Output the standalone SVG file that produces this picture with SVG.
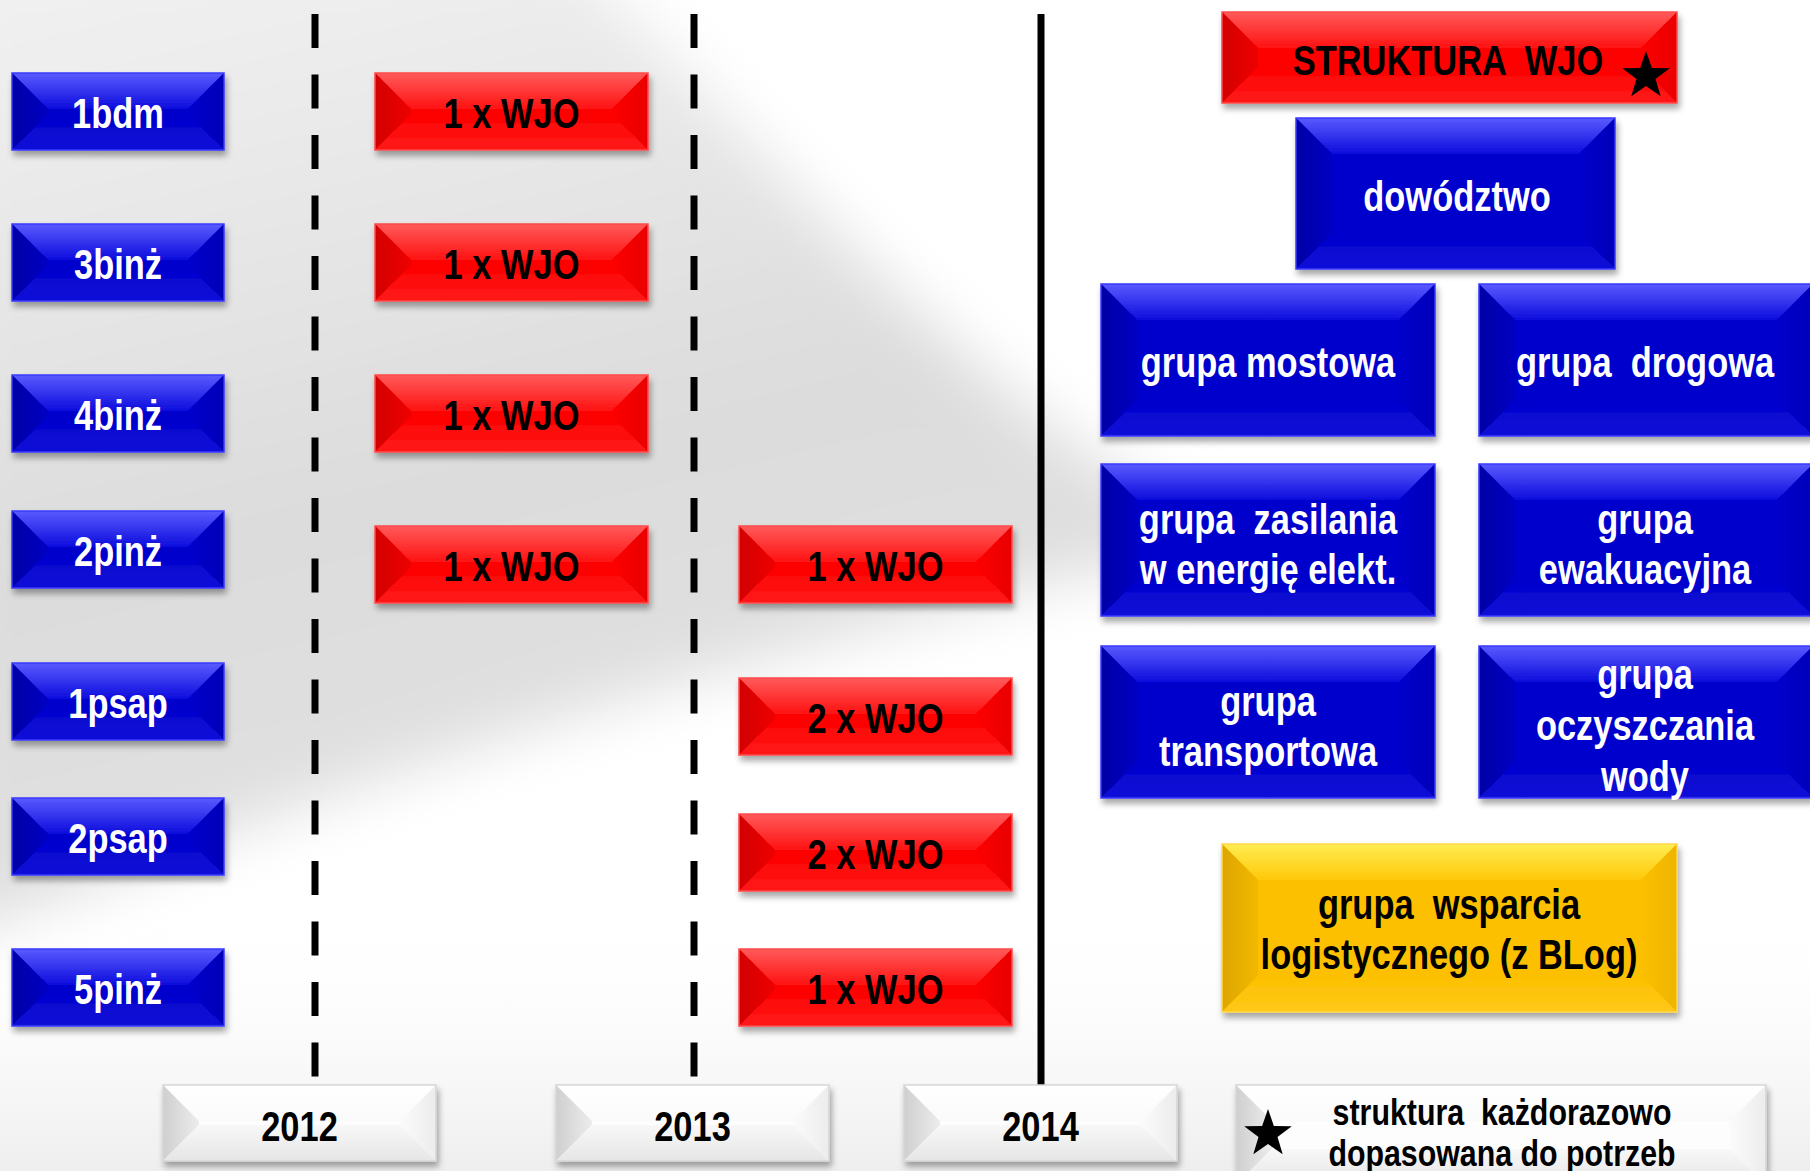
<svg xmlns="http://www.w3.org/2000/svg" xmlns:xlink="http://www.w3.org/1999/xlink" width="1810" height="1171" viewBox="0 0 1810 1171">
<style>
.lbl{font-family:"Liberation Sans",Arial,sans-serif;font-weight:bold;font-size:42px;text-anchor:middle}
.lg{font-size:37px}
.w{fill:#ffffff}
.k{fill:#000000}
.blue .b{fill:#0000cc}.blue .t{fill:url(#bT)}.blue .l{fill:url(#bL)}.blue .r{fill:url(#bR)}.blue .u{fill:url(#bU)}.blue .o{fill:none;stroke:#3a3aff;stroke-width:1.5}
.red .b{fill:#fd0000}.red .t{fill:url(#rT)}.red .l{fill:url(#rL)}.red .r{fill:url(#rR)}.red .u{fill:url(#rU)}.red .o{fill:none;stroke:#ff4a4a;stroke-width:1.5}
.yel .b{fill:#fcc000}.yel .t{fill:url(#yT)}.yel .l{fill:url(#yL)}.yel .r{fill:url(#yR)}.yel .u{fill:url(#yU)}.yel .o{fill:none;stroke:#ffd84a;stroke-width:1.5}
.wht .b{fill:#fdfdfd}.wht .t{fill:url(#wT)}.wht .l{fill:url(#wL)}.wht .r{fill:url(#wR)}.wht .u{fill:url(#wU)}.wht .o{fill:none;stroke:#d6d6d6;stroke-width:1.5}
.dash{stroke:#000;stroke-width:7;stroke-dasharray:34 26.5;fill:none}
.solid{stroke:#000;stroke-width:7;fill:none}
</style>
<defs>
<filter id="sh" x="-10%" y="-10%" width="125%" height="140%">
<feDropShadow dx="2" dy="5" stdDeviation="3" flood-color="#000" flood-opacity="0.35"/>
</filter>
<filter id="soft" x="-20%" y="-20%" width="140%" height="140%"><feGaussianBlur stdDeviation="30"/></filter>
<linearGradient id="bgG" x1="0" y1="0" x2="0.3" y2="1"><stop offset="0" stop-color="#f3f3f3"/><stop offset="0.6" stop-color="#dcdcdc"/><stop offset="1" stop-color="#e2e2e2"/></linearGradient>
<linearGradient id="bgB" x1="0" y1="0" x2="0" y2="1"><stop offset="0" stop-color="#ffffff" stop-opacity="0"/><stop offset="1" stop-color="#eeeeee"/></linearGradient>
<linearGradient id="bT" x1="0" y1="0" x2="0" y2="1"><stop offset="0" stop-color="#5a5aff"/><stop offset="1" stop-color="#0c0cdc"/></linearGradient>
<linearGradient id="bL" x1="0" y1="0" x2="1" y2="0"><stop offset="0" stop-color="#0000a6"/><stop offset="1" stop-color="#0000c2"/></linearGradient>
<linearGradient id="bR" x1="1" y1="0" x2="0" y2="0"><stop offset="0" stop-color="#0000b8"/><stop offset="1" stop-color="#0000cc"/></linearGradient>
<linearGradient id="bU" x1="0" y1="1" x2="0" y2="0"><stop offset="0" stop-color="#1212d8"/><stop offset="1" stop-color="#0000cc"/></linearGradient>
<linearGradient id="rT" x1="0" y1="0" x2="0" y2="1"><stop offset="0" stop-color="#ff5a5a"/><stop offset="1" stop-color="#ff1212"/></linearGradient>
<linearGradient id="rL" x1="0" y1="0" x2="1" y2="0"><stop offset="0" stop-color="#d20000"/><stop offset="1" stop-color="#ee0000"/></linearGradient>
<linearGradient id="rR" x1="1" y1="0" x2="0" y2="0"><stop offset="0" stop-color="#e80000"/><stop offset="1" stop-color="#fd0000"/></linearGradient>
<linearGradient id="rU" x1="0" y1="1" x2="0" y2="0"><stop offset="0" stop-color="#ff1a1a"/><stop offset="1" stop-color="#fd0000"/></linearGradient>
<linearGradient id="yT" x1="0" y1="0" x2="0" y2="1"><stop offset="0" stop-color="#ffec50"/><stop offset="1" stop-color="#ffc80a"/></linearGradient>
<linearGradient id="yL" x1="0" y1="0" x2="1" y2="0"><stop offset="0" stop-color="#dda600"/><stop offset="1" stop-color="#f2b800"/></linearGradient>
<linearGradient id="yR" x1="1" y1="0" x2="0" y2="0"><stop offset="0" stop-color="#eeb400"/><stop offset="1" stop-color="#fcc000"/></linearGradient>
<linearGradient id="yU" x1="0" y1="1" x2="0" y2="0"><stop offset="0" stop-color="#ffc818"/><stop offset="1" stop-color="#fcc000"/></linearGradient>
<linearGradient id="wT" x1="0" y1="0" x2="0" y2="1"><stop offset="0" stop-color="#ffffff"/><stop offset="1" stop-color="#fafafa"/></linearGradient>
<linearGradient id="wL" x1="0" y1="0" x2="1" y2="0"><stop offset="0" stop-color="#cfcfcf"/><stop offset="1" stop-color="#ececec"/></linearGradient>
<linearGradient id="wR" x1="1" y1="0" x2="0" y2="0"><stop offset="0" stop-color="#ececec"/><stop offset="1" stop-color="#fbfbfb"/></linearGradient>
<linearGradient id="wU" x1="0" y1="1" x2="0" y2="0"><stop offset="0" stop-color="#e6e6e6"/><stop offset="1" stop-color="#f8f8f8"/></linearGradient>
<polygon id="star" points="0,-25 5.88,-8.09 23.78,-7.73 9.51,3.09 14.69,20.23 0,10 -14.69,20.23 -9.51,3.09 -23.78,-7.73 -5.88,-8.09"/>
<g id="boxA" class="blue"><rect class="b" width="212" height="77"/><polygon class="t" points="0,0 212,0 176,36 36,36"/><polygon class="l" points="0,0 36,36 36,41 0,77"/><polygon class="r" points="212,0 212,77 176,41 176,36"/><polygon class="u" points="0,77 36,41 176,41 212,77"/><rect class="o" width="212" height="77"/></g>
<g id="boxB" class="red"><rect class="b" width="273" height="77"/><polygon class="t" points="0,0 273,0 237,36 36,36"/><polygon class="l" points="0,0 36,36 36,41 0,77"/><polygon class="r" points="273,0 273,77 237,41 237,36"/><polygon class="u" points="0,77 36,41 237,41 273,77"/><rect class="o" width="273" height="77"/></g>
<g id="boxC" class="red"><rect class="b" width="455" height="91"/><polygon class="t" points="0,0 455,0 419,36 36,36"/><polygon class="l" points="0,0 36,36 36,55 0,91"/><polygon class="r" points="455,0 455,91 419,55 419,36"/><polygon class="u" points="0,91 36,55 419,55 455,91"/><rect class="o" width="455" height="91"/></g>
<g id="boxD" class="blue"><rect class="b" width="319" height="151"/><polygon class="t" points="0,0 319,0 283,36 36,36"/><polygon class="l" points="0,0 36,36 36,115 0,151"/><polygon class="r" points="319,0 319,151 283,115 283,36"/><polygon class="u" points="0,151 36,115 283,115 319,151"/><rect class="o" width="319" height="151"/></g>
<g id="boxE" class="blue"><rect class="b" width="334" height="152"/><polygon class="t" points="0,0 334,0 298,36 36,36"/><polygon class="l" points="0,0 36,36 36,116 0,152"/><polygon class="r" points="334,0 334,152 298,116 298,36"/><polygon class="u" points="0,152 36,116 298,116 334,152"/><rect class="o" width="334" height="152"/></g>
<g id="boxF" class="yel"><rect class="b" width="455" height="168"/><polygon class="t" points="0,0 455,0 419,36 36,36"/><polygon class="l" points="0,0 36,36 36,132 0,168"/><polygon class="r" points="455,0 455,168 419,132 419,36"/><polygon class="u" points="0,168 36,132 419,132 455,168"/><rect class="o" width="455" height="168"/></g>
<g id="boxG" class="wht"><rect class="b" width="273" height="76"/><polygon class="t" points="0,0 273,0 237,36 36,36"/><polygon class="l" points="0,0 36,36 36,40 0,76"/><polygon class="r" points="273,0 273,76 237,40 237,36"/><polygon class="u" points="0,76 36,40 237,40 273,76"/><rect class="o" width="273" height="76"/></g>
<g id="boxH" class="wht"><rect class="b" width="530" height="100"/><polygon class="t" points="0,0 530,0 494,36 36,36"/><polygon class="l" points="0,0 36,36 36,64 0,100"/><polygon class="r" points="530,0 530,100 494,64 494,36"/><polygon class="u" points="0,100 36,64 494,64 530,100"/><rect class="o" width="530" height="100"/></g>
</defs>

<g id="background">
<rect width="1810" height="1171" fill="#ffffff"/>
<path d="M-60,-60 H560 C760,140 980,420 1230,540 C900,620 450,730 -60,950 Z" fill="url(#bgG)" filter="url(#soft)"/>
<rect x="0" y="900" width="1810" height="271" fill="url(#bgB)"/>
</g>

<g id="connectors">
<line class="dash" x1="315" y1="14" x2="315" y2="1077"/>
<line class="dash" x1="694" y1="14" x2="694" y2="1077"/>
<line class="solid" x1="1041" y1="14" x2="1041" y2="1085"/>
</g>

<g id="n-1bdm"><use href="#boxA" x="12" y="73" filter="url(#sh)"/><text class="lbl w" transform="matrix(0.82 0 0 1 118 0)" x="0" y="128">1bdm</text></g>
<g id="n-3binz"><use href="#boxA" x="12" y="224" filter="url(#sh)"/><text class="lbl w" transform="matrix(0.82 0 0 1 118 0)" x="0" y="279">3binż</text></g>
<g id="n-4binz"><use href="#boxA" x="12" y="375" filter="url(#sh)"/><text class="lbl w" transform="matrix(0.82 0 0 1 118 0)" x="0" y="430">4binż</text></g>
<g id="n-2pinz"><use href="#boxA" x="12" y="511" filter="url(#sh)"/><text class="lbl w" transform="matrix(0.82 0 0 1 118 0)" x="0" y="566">2pinż</text></g>
<g id="n-1psap"><use href="#boxA" x="12" y="663" filter="url(#sh)"/><text class="lbl w" transform="matrix(0.82 0 0 1 118 0)" x="0" y="718">1psap</text></g>
<g id="n-2psap"><use href="#boxA" x="12" y="798" filter="url(#sh)"/><text class="lbl w" transform="matrix(0.82 0 0 1 118 0)" x="0" y="853">2psap</text></g>
<g id="n-5pinz"><use href="#boxA" x="12" y="949" filter="url(#sh)"/><text class="lbl w" transform="matrix(0.82 0 0 1 118 0)" x="0" y="1004">5pinż</text></g>

<g id="n-2012-1"><use href="#boxB" x="375" y="73" filter="url(#sh)"/><text class="lbl k" transform="matrix(0.82 0 0 1 511.5 0)" x="0" y="128">1 x WJO</text></g>
<g id="n-2012-2"><use href="#boxB" x="375" y="224" filter="url(#sh)"/><text class="lbl k" transform="matrix(0.82 0 0 1 511.5 0)" x="0" y="279">1 x WJO</text></g>
<g id="n-2012-3"><use href="#boxB" x="375" y="375" filter="url(#sh)"/><text class="lbl k" transform="matrix(0.82 0 0 1 511.5 0)" x="0" y="430">1 x WJO</text></g>
<g id="n-2012-4"><use href="#boxB" x="375" y="526" filter="url(#sh)"/><text class="lbl k" transform="matrix(0.82 0 0 1 511.5 0)" x="0" y="581">1 x WJO</text></g>

<g id="n-2013-1"><use href="#boxB" x="739" y="526" filter="url(#sh)"/><text class="lbl k" transform="matrix(0.82 0 0 1 875.5 0)" x="0" y="581">1 x WJO</text></g>
<g id="n-2013-2"><use href="#boxB" x="739" y="678" filter="url(#sh)"/><text class="lbl k" transform="matrix(0.82 0 0 1 875.5 0)" x="0" y="733">2 x WJO</text></g>
<g id="n-2013-3"><use href="#boxB" x="739" y="814" filter="url(#sh)"/><text class="lbl k" transform="matrix(0.82 0 0 1 875.5 0)" x="0" y="869">2 x WJO</text></g>
<g id="n-2013-4"><use href="#boxB" x="739" y="949" filter="url(#sh)"/><text class="lbl k" transform="matrix(0.82 0 0 1 875.5 0)" x="0" y="1004">1 x WJO</text></g>

<g id="n-struktura"><use href="#boxC" x="1222" y="12" filter="url(#sh)"/><text class="lbl k" transform="matrix(0.82 0 0 1 1448 0)" x="0" y="75" xml:space="preserve">STRUKTURA  WJO</text><use href="#star" x="1646" y="76"/></g>
<g id="n-dowodztwo"><use href="#boxD" x="1296" y="118" filter="url(#sh)"/><text class="lbl w" transform="matrix(0.82 0 0 1 1457 0)" x="0" y="211">dowództwo</text></g>
<g id="n-mostowa"><use href="#boxE" x="1101" y="284" filter="url(#sh)"/><text class="lbl w" transform="matrix(0.82 0 0 1 1268 0)" x="0" y="377">grupa mostowa</text></g>
<g id="n-drogowa"><use href="#boxE" x="1479" y="284" filter="url(#sh)"/><text class="lbl w" transform="matrix(0.82 0 0 1 1645 0)" x="0" y="377" xml:space="preserve">grupa  drogowa</text></g>
<g id="n-zasilania"><use href="#boxE" x="1101" y="464" filter="url(#sh)"/><text class="lbl w" transform="matrix(0.82 0 0 1 1268 0)" x="0" y="534" xml:space="preserve">grupa  zasilania</text><text class="lbl w" transform="matrix(0.82 0 0 1 1268 0)" x="0" y="584">w energię elekt.</text></g>
<g id="n-ewakuacyjna"><use href="#boxE" x="1479" y="464" filter="url(#sh)"/><text class="lbl w" transform="matrix(0.82 0 0 1 1645 0)" x="0" y="534">grupa</text><text class="lbl w" transform="matrix(0.82 0 0 1 1645 0)" x="0" y="584">ewakuacyjna</text></g>
<g id="n-transportowa"><use href="#boxE" x="1101" y="646" filter="url(#sh)"/><text class="lbl w" transform="matrix(0.82 0 0 1 1268 0)" x="0" y="716">grupa</text><text class="lbl w" transform="matrix(0.82 0 0 1 1268 0)" x="0" y="766">transportowa</text></g>
<g id="n-oczyszczania"><use href="#boxE" x="1479" y="646" filter="url(#sh)"/><text class="lbl w" transform="matrix(0.82 0 0 1 1645 0)" x="0" y="689">grupa</text><text class="lbl w" transform="matrix(0.82 0 0 1 1645 0)" x="0" y="740">oczyszczania</text><text class="lbl w" transform="matrix(0.82 0 0 1 1645 0)" x="0" y="791">wody</text></g>
<g id="n-wsparcia"><use href="#boxF" x="1222" y="844" filter="url(#sh)"/><text class="lbl k" transform="matrix(0.82 0 0 1 1449 0)" x="0" y="919" xml:space="preserve">grupa  wsparcia</text><text class="lbl k" transform="matrix(0.82 0 0 1 1449 0)" x="0" y="969">logistycznego (z BLog)</text></g>

<g id="n-year-2012"><use href="#boxG" x="163" y="1085" filter="url(#sh)"/><text class="lbl k" transform="matrix(0.82 0 0 1 299.5 0)" x="0" y="1141">2012</text></g>
<g id="n-year-2013"><use href="#boxG" x="556" y="1085" filter="url(#sh)"/><text class="lbl k" transform="matrix(0.82 0 0 1 692.5 0)" x="0" y="1141">2013</text></g>
<g id="n-year-2014"><use href="#boxG" x="904" y="1085" filter="url(#sh)"/><text class="lbl k" transform="matrix(0.82 0 0 1 1040.5 0)" x="0" y="1141">2014</text></g>
<g id="n-legend"><use href="#boxH" x="1236" y="1085" filter="url(#sh)"/><use href="#star" x="1268" y="1134"/><text class="lbl lg k" transform="matrix(0.82 0 0 1 1502 0)" x="0" y="1125" xml:space="preserve">struktura  każdorazowo</text><text class="lbl lg k" transform="matrix(0.82 0 0 1 1502 0)" x="0" y="1166">dopasowana do potrzeb</text></g>
</svg>
